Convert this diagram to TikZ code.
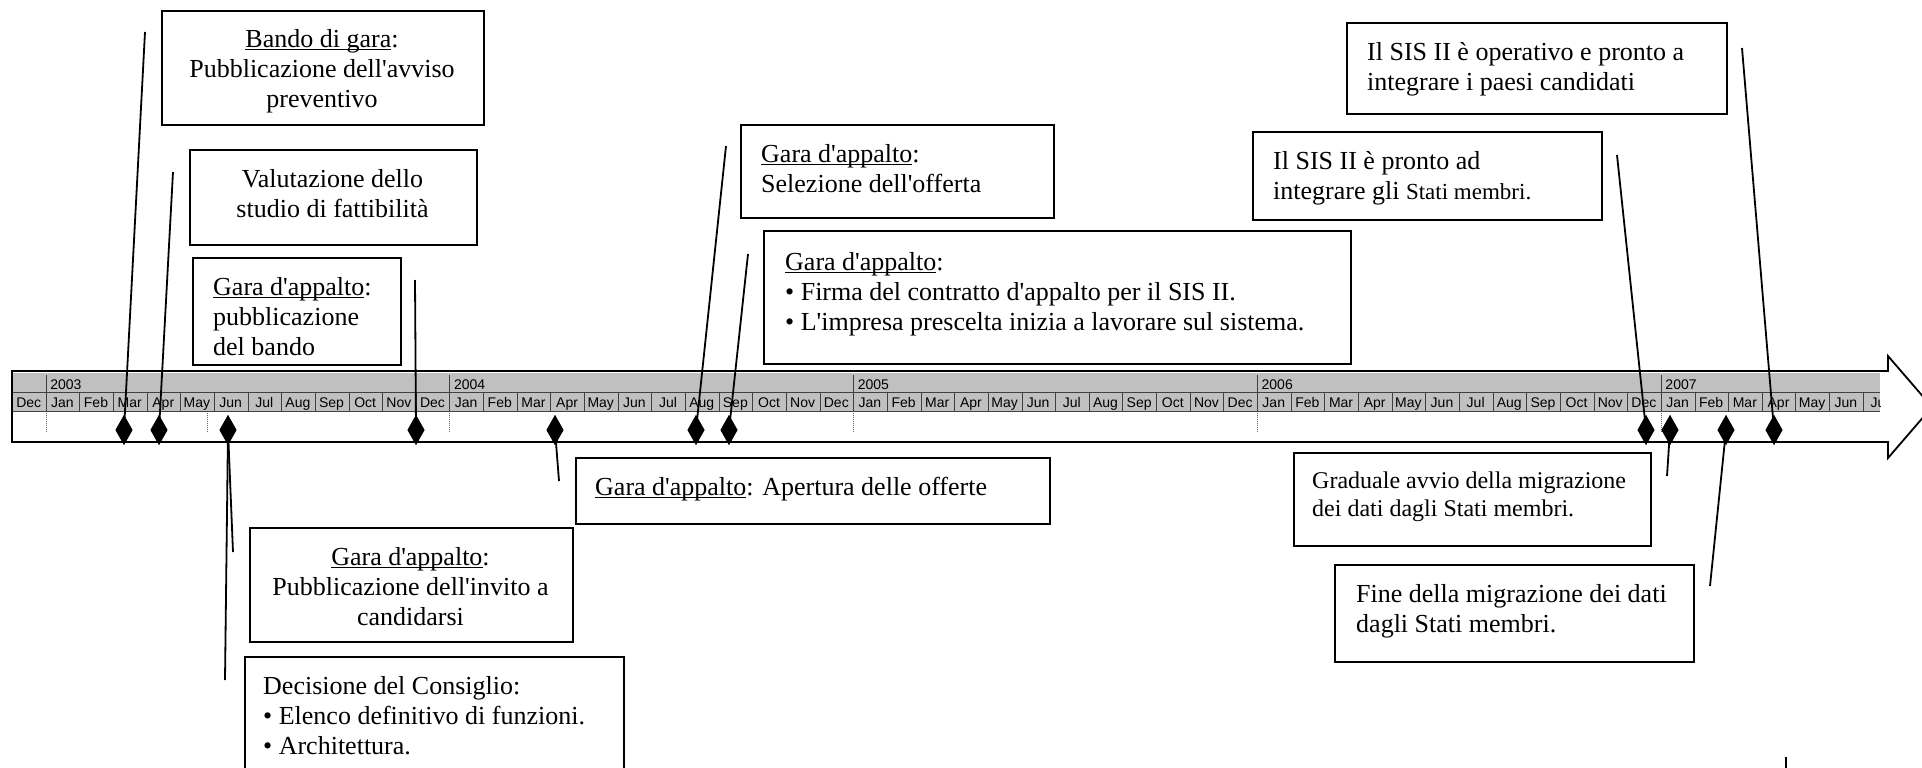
\documentclass[tikz,border=0pt]{standalone}
\usepackage{fontspec}
\setmainfont{Liberation Serif}[Ligatures=TeXOff]
\newfontfamily\monthfont{Liberation Sans}
\usetikzlibrary{shapes.geometric}
\newcommand\myul[1]{\setbox0=\hbox{#1}\rlap{\rule[-3pt]{\wd0}{1.2pt}}\box0}
\newcommand\monthname[1]{\ifcase#1 Dec\or Jan\or Feb\or Mar\or Apr\or May\or Jun\or Jul\or Aug\or Sep\or Oct\or Nov\fi}
\definecolor{hdrgray}{RGB}{192,192,192}
\begin{document}
\begin{tikzpicture}[x=1pt,y=-1pt,
  box/.style={draw=black, line width=1.8pt, fill=white, anchor=north west, inner sep=0pt},
  txt/.style={inner sep=0pt, font=\fontsize{26}{30}\selectfont, anchor=north west, align=left},
  ctxt/.style={inner sep=0pt, font=\fontsize{26}{30}\selectfont, anchor=north, align=center},
  stxt/.style={inner sep=0pt, font=\fontsize{24}{27.6}\selectfont, anchor=north west, align=left},
  dmd/.style={diamond, fill=black, draw=none, inner sep=0pt, minimum width=17pt, minimum height=30pt},
  conn/.style={line width=1.8pt},
  cellline/.style={line width=0.8pt, draw=black!75},
  dotln/.style={line width=0.8pt, draw=black!60, dash pattern=on 1pt off 1pt},
  mlabel/.style={inner sep=0pt, anchor=base, font=\monthfont\fontsize{14}{16}\selectfont},
  ylabel/.style={inner sep=0pt, anchor=base west, font=\monthfont\fontsize{14}{16}\selectfont},
]
\useasboundingbox (0,0) rectangle (1922,768);
\clip (0,0) rectangle (1922,768);
\fill[white] (0,0) rectangle (1922,768);

% timeline band (block arrow)
\draw[line width=1.8pt, line join=miter, fill=white] (12,371) -- (1888,371) -- (1888,356) -- (1932,407) -- (1888,458) -- (1888,442) -- (12,442) -- cycle;
\begin{scope}
  \clip (13,372.5) rectangle (1880,413);
  \fill[hdrgray] (13,372.5) rectangle (1880,411.5);
  \foreach \k in {0,...,55} {
    \pgfmathsetmacro\bx{12.4+\k*33.65}
    \pgfmathtruncatemacro\mm{mod(\k,12)}
    \draw[cellline] (\bx,392) -- (\bx,411.5);
    \node[mlabel] (m\k) at (\bx+16.3,407) {\monthname{\mm}};
  }
  \draw[cellline] (13,392) -- (1880,392);
  \draw[cellline] (13,411.5) -- (1880,411.5);
  \foreach \yr/\k in {2003/1,2004/13,2005/25,2006/37,2007/49} {
    \pgfmathsetmacro\bx{12.4+\k*33.65}
    \draw[cellline] (\bx,375) -- (\bx,392);
    \node[ylabel] (y\yr) at (\bx+4,389) {\yr};
  }
\end{scope}
\foreach \dx in {46.05,207,449.85,853.65,1257.45,1661.25} {
  \draw[dotln] (\dx,412.5) -- (\dx,431);
}

% free ends of connectors
\coordinate (e1) at (145,32);
\coordinate (e2) at (173,172);
\coordinate (e3a) at (225,680);
\coordinate (e3b) at (233,552);
\coordinate (e4) at (415,280);
\coordinate (e5) at (559,481);
\coordinate (e6) at (726,146);
\coordinate (e7) at (748,254);
\coordinate (e8) at (1617,155);
\coordinate (e9) at (1667,476);
\coordinate (e10) at (1710,586);
\coordinate (e11) at (1742,48);
\coordinate (s1) at (1786,757);
\coordinate (s2) at (1786,772);

% diamonds
\node[dmd] (d1) at (124,430) {};
\node[dmd] (d2) at (159,430) {};
\node[dmd] (d3) at (228,430) {};
\node[dmd] (d4) at (416,430) {};
\node[dmd] (d5) at (555,430) {};
\node[dmd] (d6) at (696,430) {};
\node[dmd] (d7) at (729,430) {};
\node[dmd] (d8) at (1646,430) {};
\node[dmd] (d9) at (1670,430) {};
\node[dmd] (d10) at (1726,430) {};
\node[dmd] (d11) at (1774,430) {};

% connectors
\draw[conn] (d1.center) -- (e1);
\draw[conn] (d2.center) -- (e2);
\draw[conn] (d3.center) -- (e3a);
\draw[conn] (d3.center) -- (e3b);
\draw[conn] (d4.center) -- (e4);
\draw[conn] (d5.center) -- (e5);
\draw[conn] (d6.center) -- (e6);
\draw[conn] (d7.center) -- (e7);
\draw[conn] (d8.center) -- (e8);
\draw[conn] (d9.center) -- (e9);
\draw[conn] (d10.center) -- (e10);
\draw[conn] (d11.center) -- (e11);
\draw[conn] (s1) -- (s2);
% redraw diamonds on top
\foreach \n/\dx in {1/124,2/159,3/228,4/416,5/555,6/696,7/729,8/1646,9/1670,10/1726,11/1774} {
  \node[dmd] (dd\n) at (\dx,430) {};
}

% boxes
\node[box, minimum width=322pt, minimum height=114pt] (b1) at (161,10) {};
\node[box, minimum width=287pt, minimum height=95pt] (b2) at (189,149) {};
\node[box, minimum width=208pt, minimum height=107pt] (b3) at (192,257) {};
\node[box, minimum width=313pt, minimum height=93pt] (b4) at (740,124) {};
\node[box, minimum width=587pt, minimum height=133pt] (b5) at (763,230) {};
\node[box, minimum width=349pt, minimum height=88pt] (b6) at (1252,131) {};
\node[box, minimum width=380pt, minimum height=91pt] (b7) at (1346,22) {};
\node[box, minimum width=474pt, minimum height=66pt] (b8) at (575,457) {};
\node[box, minimum width=323pt, minimum height=114pt] (b9) at (249,527) {};
\node[box, minimum width=379pt, minimum height=150pt] (b10) at (244,656) {};
\node[box, minimum width=357pt, minimum height=93pt] (b11) at (1293,452) {};
\node[box, minimum width=359pt, minimum height=97pt] (b12) at (1334,564) {};

% texts
\node[ctxt] (t1) at (322,26) {\strut\myul{Bando di gara}:\\Pubblicazione dell'avviso\\preventivo};
\node[ctxt] (t2) at (332.5,166) {\strut Valutazione dello\\studio di fattibilità};
\node[txt] (t3) at (213,274) {\strut\myul{Gara d'appalto}:\\pubblicazione\\del bando};
\node[txt] (t4) at (761,141) {\strut\myul{Gara d'appalto}:\\Selezione dell'offerta};
\node[txt] (t5) at (785,249) {\strut\myul{Gara d'appalto}:\\• Firma del contratto d'appalto per il SIS II.\\• L'impresa prescelta inizia a lavorare sul sistema.};
\node[txt] (t6) at (1273,148) {\strut Il SIS II è pronto ad\\integrare gli {\fontsize{23}{30}\selectfont Stati membri.}};
\node[txt] (t7) at (1367,39) {\strut Il SIS II è operativo e pronto a\\integrare i paesi candidati};
\node[txt] (t8) at (595,474) {\strut\myul{Gara d'appalto}: Apertura delle offerte};
\node[ctxt] (t9) at (410.5,544) {\strut\myul{Gara d'appalto}:\\Pubblicazione dell'invito a\\candidarsi};
\node[txt] (t10) at (263,673) {\strut Decisione del Consiglio:\\• Elenco definitivo di funzioni.\\• Architettura.};
\node[stxt] (t11) at (1312,469) {\strut Graduale avvio della migrazione\\dei dati dagli Stati membri.};
\node[txt] (t12) at (1356,581) {\strut Fine della migrazione dei dati\\dagli Stati membri.};
\end{tikzpicture}
\end{document}
